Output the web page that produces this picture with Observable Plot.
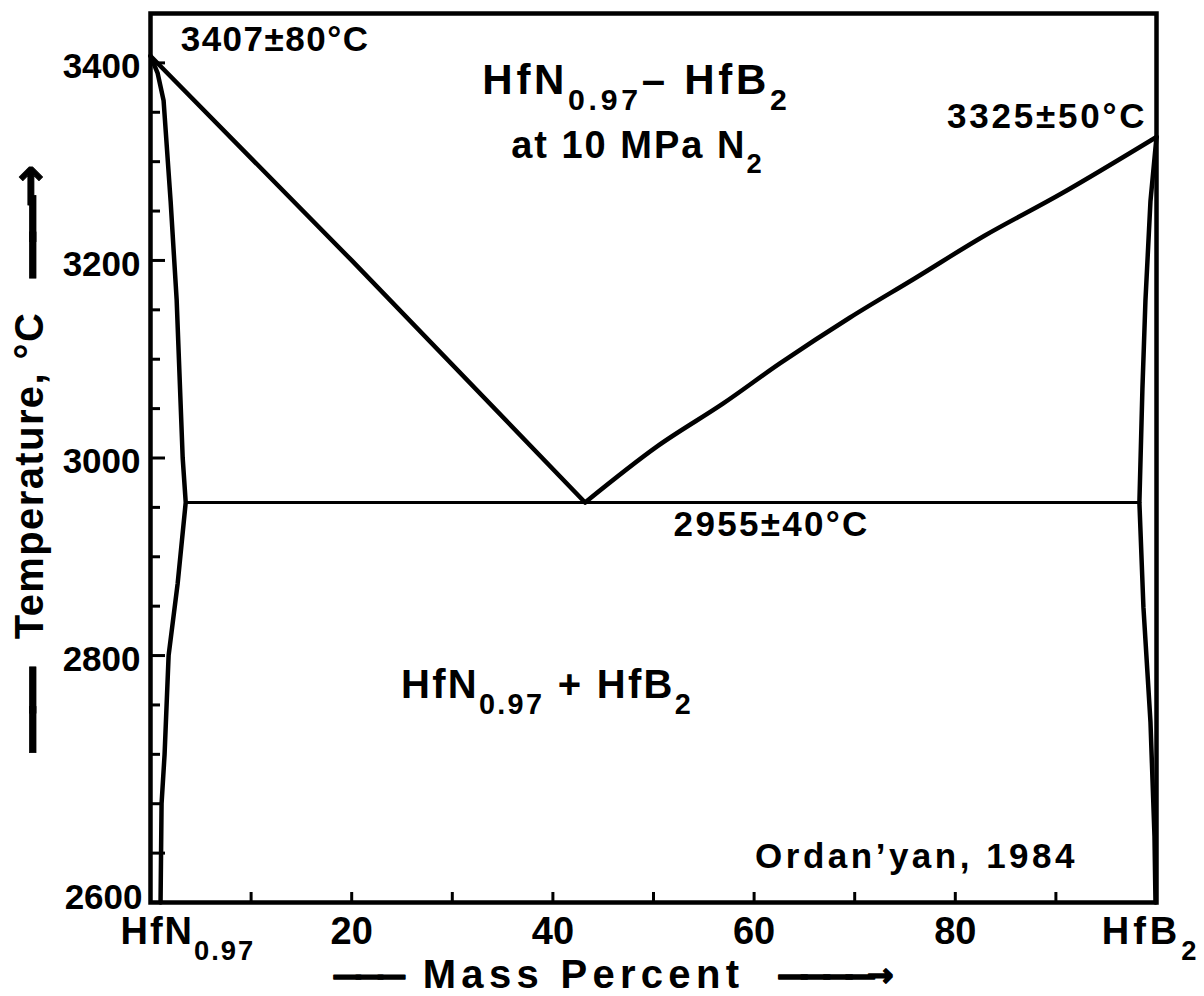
<!DOCTYPE html>
<html>
<head>
<meta charset="utf-8">
<script src="https://cdn.jsdelivr.net/npm/d3@7"></script>
<script src="https://cdn.jsdelivr.net/npm/@observablehq/plot@0.6"></script>
<style>
html,body{margin:0;padding:0;background:#fff;}
#chart svg{display:block;}
</style>
</head>
<body>
<div id="chart"></div>
<script>
// ---- data: mass % HfB2 (x) vs temperature °C (y) ----
const liquidusLeftPct  = [0, 20, 43.2];
const liquidusLeftT    = [3407, 3200, 2955];
const liquidusRightPct = [43.2, 50.4, 56.9, 62.6, 69.5, 76.0, 82.9, 90.6, 100];
const liquidusRightT   = [2955, 3012, 3055, 3096, 3142, 3182, 3225, 3268, 3325];
const solvusLeftPct    = [0, 0.7, 1.3, 2.0, 2.6, 3.2, 3.5, 2.7, 1.8, 1.4, 1.1, 1.0];
const solvusLeftT      = [3407, 3390, 3362, 3260, 3160, 3000, 2955, 2873, 2800, 2700, 2650, 2550];
const solvusRightPct   = [100, 99.4, 98.9, 98.6, 98.3, 98.7, 99.4, 99.8, 99.9];
const solvusRightT     = [3325, 3260, 3159, 3070, 2955, 2849, 2733, 2617, 2550];
const eutecticT = [2955];
const eutecticFromPct = [3.5];
const eutecticToPct = [98.3];

// ---- ticks ----
const yMajorTicks = [2600, 2800, 3000, 3200, 3400];
const yMinorTicks = [2650, 2700, 2750, 2850, 2900, 2950, 3050, 3100, 3150, 3250, 3300, 3350];
const yTickLabels = ["2600", "2800", "3000", "3200", "3400"];
const xTicks = [10, 20, 30, 40, 50, 60, 70, 80, 90];
const xLabelValues = [20, 40, 60, 80];
const xLabelTexts = ["20", "40", "60", "80"];
const xEndValues = [0, 100];
const xEndTexts = ["HfN_{0.97}", "HfB_{2}"];

// ---- annotations (text, mass %, °C) ----
const noteTexts = ["3407±80°C", "HfN_{0.97}– HfB_{2}", "at 10 MPa N_{2}", "3325±50°C", "2955±40°C", "HfN_{0.97} + HfB_{2}", "Ordan’yan, 1984"];
const notePct   = [3.0, 48.3, 48.4, 99.1, 52.0, 24.9, 60.1];
const noteT     = [3412, 3369, 3304, 3334, 2921, 2757, 2585];

const axisLabelX = "Mass Percent";
const axisLabelY = "Temperature, °C";

// ---- build ----
const table = (xs, ts) => xs.map((x, i) => ({x, t: ts[i]}));
const notes = noteTexts.map((text, i) => ({text, x: notePct[i], t: noteT[i]}));
const fontFamily = "'Liberation Sans', Arial, sans-serif";
const arrowFont = "'DejaVu Sans', sans-serif";
const lineW = 4.5;

const note = (i, anchor, size) => Plot.text([notes[i]], {
  x: "x", y: "t", text: "text", textAnchor: anchor, lineAnchor: "bottom", fontSize: size, fontWeight: "bold"
});
const deco = (s, anchor, dx, dy, size, rotate = 0, sw = 0.8) => Plot.text([s], {
  text: d => d, frameAnchor: anchor, dx, dy, rotate, textAnchor: "middle", lineAnchor: "middle",
  fontSize: size, fontWeight: "bold", fontFamily: arrowFont, stroke: "#000", strokeWidth: sw, fill: "#000"
});

const chart = Plot.plot({
  width: 1204,
  height: 996,
  marginLeft: 150,
  marginRight: 48,
  marginTop: 13,
  marginBottom: 94,
  x: {domain: [0, 100]},
  y: {domain: [2550, 3450]},
  style: {fontFamily, fontWeight: "bold", fontSize: "35px", color: "#000", background: "#fff", overflow: "visible"},
  marks: [
    // inward ticks
    Plot.axisY(yMinorTicks, {tickSize: 10, dx: 10, fill: "none", strokeWidth: 3, label: null}),
    Plot.axisY(yMajorTicks, {tickSize: 15, dx: 15, fill: "none", strokeWidth: 3, label: null}),
    Plot.axisX(xTicks, {tickSize: 10, dy: -10, fill: "none", strokeWidth: 3, label: null}),
    // tick labels
    Plot.axisY(yMajorTicks.slice(1), {tickSize: 0, tickPadding: 10, dy: 4, fontSize: 35, fontWeight: "bold",
      tickFormat: d => yTickLabels[yMajorTicks.indexOf(d)], label: null}),
    Plot.axisY(yMajorTicks.slice(0, 1), {tickSize: 0, tickPadding: 8, dy: 45, fontSize: 35, fontWeight: "bold",
      tickFormat: d => yTickLabels[yMajorTicks.indexOf(d)], label: null}),
    Plot.axisX(xLabelValues, {tickSize: 0, tickPadding: 15, fontSize: 38, fontWeight: "bold",
      tickFormat: d => xLabelTexts[xLabelValues.indexOf(d)], label: null}),
    Plot.axisX(xEndValues.slice(0, 1), {tickSize: 0, tickPadding: 15, fontSize: 38, fontWeight: "bold", textAnchor: "start", dx: -30,
      tickFormat: d => xEndTexts[xEndValues.indexOf(d)], label: null}),
    Plot.axisX(xEndValues.slice(1), {tickSize: 0, tickPadding: 15, fontSize: 38, fontWeight: "bold", textAnchor: "end", dx: 44,
      tickFormat: d => xEndTexts[xEndValues.indexOf(d)], label: null}),
    // phase boundaries
    Plot.line(table(liquidusLeftPct, liquidusLeftT), {x: "x", y: "t", stroke: "#000", strokeWidth: lineW}),
    Plot.line(table(liquidusRightPct, liquidusRightT), {x: "x", y: "t", stroke: "#000", strokeWidth: lineW, curve: "catmull-rom"}),
    Plot.line(table(solvusLeftPct, solvusLeftT), {x: "x", y: "t", stroke: "#000", strokeWidth: lineW}),
    Plot.line(table(solvusRightPct, solvusRightT), {x: "x", y: "t", stroke: "#000", strokeWidth: lineW}),
    Plot.ruleY(eutecticT, {x1: eutecticFromPct[0], x2: eutecticToPct[0], stroke: "#000", strokeWidth: 3}),
    Plot.frame({stroke: "#000", strokeWidth: 4.5}),
    // annotations
    note(0, "start", 35),
    note(1, "middle", 42),
    note(2, "middle", 38),
    note(3, "end", 35),
    note(4, "start", 35),
    note(5, "start", 40),
    note(6, "start", 35),
    // axis titles
    Plot.text([axisLabelX], {text: d => d, frameAnchor: "bottom", dx: -70, dy: 73, textAnchor: "middle", lineAnchor: "middle", fontSize: 40, fontWeight: "bold"}),
    deco("———", "bottom", -288, 73, 30, 0, 1.5),
    deco("————→", "bottom", 177, 73, 32, 0, 1.5),
    Plot.text([axisLabelY], {text: d => d, frameAnchor: "left", dx: -120, dy: 17.5, rotate: -90, textAnchor: "middle", lineAnchor: "middle", fontSize: 40, fontWeight: "bold"}),
    deco("——", "left", -120, 258, 52, -90),
    deco("——→", "left", -120, -227.5, 52, -90)
  ]
});

// letter spacing and subscripts
const spacing = {
  "3407±80°C": "1.5px", "3325±50°C": "2.8px", "2955±40°C": "2.3px",
  "HfN_{0.97}– HfB_{2}": "3.7px", "at 10 MPa N_{2}": "2px", "HfN_{0.97} + HfB_{2}": "2.3px",
  "Ordan’yan, 1984": "3.5px", "Mass Percent": "5.3px", "Temperature, °C": "1.4px",
  "HfN_{0.97}": "2px", "HfB_{2}": "4px",
  "——": "-0.24em", "———": "-0.26em", "——→": "-0.3em", "————→": "-0.3em"
};
const NS = "http://www.w3.org/2000/svg";
chart.querySelectorAll("text").forEach(t => {
  const s = t.textContent;
  if (s in spacing) t.style.letterSpacing = spacing[s];
  if (!s.includes("_{")) return;
  const parts = s.split(/(_\{[^}]*\})/).filter(p => p.length);
  t.textContent = "";
  let prevSub = false;
  for (const p of parts) {
    const ts = document.createElementNS(NS, "tspan");
    if (p.startsWith("_{")) {
      ts.textContent = p.slice(2, -1);
      ts.style.fontSize = "0.72em";
      ts.setAttribute("dy", "0.55em");
      prevSub = true;
    } else {
      ts.textContent = p;
      if (prevSub) ts.setAttribute("dy", "-0.396em");
      prevSub = false;
    }
    t.appendChild(ts);
  }
});

document.getElementById("chart").append(chart);
</script>
</body>
</html>
